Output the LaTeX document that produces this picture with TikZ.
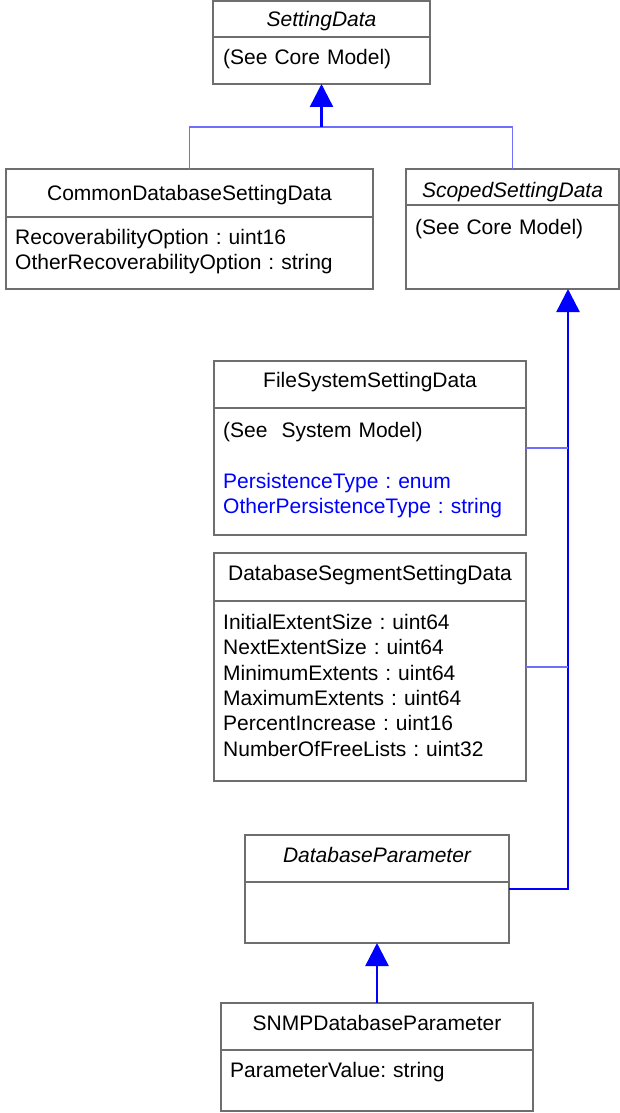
\documentclass[tikz,border=0pt]{standalone}
\usepackage{fontspec}
\setmainfont{Liberation Sans}
\usetikzlibrary{arrows.meta,calc}
\definecolor{umlgray}{RGB}{110,110,110}
\definecolor{linkblue}{RGB}{110,110,255}
\frenchspacing

\begin{document}
\begin{tikzpicture}[x=1pt, y=-1pt, font=\fontsize{21}{25.3}\selectfont,
 cls/.style={rectangle, draw=umlgray, line width=1.5pt, inner sep=0pt, outer sep=0pt},
 divider/.style={draw=umlgray, line width=1.5pt},
 title/.style={anchor=base, inner sep=0pt},
 attrs/.style={anchor=base west, inner sep=0pt, text width=330pt, align=left},
 link/.style={draw=linkblue, line width=1.4pt},
 gen/.style={draw=blue, line width=2.5pt, -{Triangle[length=23pt, width=23pt]}},]
 \useasboundingbox (0,0) rectangle (620,1113);

 % classes
 \node[cls, minimum width=217pt, minimum height=83pt] (setting) at (321.5,42.5) {};
 \node[title] (settingname) at ([yshift=-25.5pt]setting.north) {\itshape SettingData};
 \node[attrs] (settingattr) at ([xshift=10pt, yshift=-63.5pt]setting.north west) {(See Core Model)};
 \draw[divider] ([yshift=-36pt]setting.north west) -- ([yshift=-36pt]setting.north east);

 \node[cls, minimum width=367pt, minimum height=120pt] (common) at (189.5,229) {};
 \node[title] (commonname) at ([yshift=-31.5pt]common.north) {CommonDatabaseSettingData};
 \node[attrs] (commonattr) at ([xshift=9pt, yshift=-75.5pt]common.north west)
   {RecoverabilityOption : uint16\\OtherRecoverabilityOption : string};
 \draw[divider] ([yshift=-48pt]common.north west) -- ([yshift=-48pt]common.north east);

 \node[cls, minimum width=213pt, minimum height=120pt] (scoped) at (512.5,229) {};
 \node[title] (scopedname) at ([yshift=-28.5pt]scoped.north) {\itshape ScopedSettingData};
 \node[attrs] (scopedattr) at ([xshift=9pt, yshift=-65.5pt]scoped.north west) {(See Core Model)};
 \draw[divider] ([yshift=-36pt]scoped.north west) -- ([yshift=-36pt]scoped.north east);

 \node[cls, minimum width=312pt, minimum height=174pt] (filesys) at (370,448) {};
 \node[title] (filesysname) at ([yshift=-26.5pt]filesys.north) {FileSystemSettingData};
 \node[attrs] (filesysattr) at ([xshift=9pt, yshift=-76.5pt]filesys.north west)
   {(See~ System Model)\\[25.3pt]\textcolor{blue}{PersistenceType : enum}\\\textcolor{blue}{OtherPersistenceType : string}};
 \draw[divider] ([yshift=-47pt]filesys.north west) -- ([yshift=-47pt]filesys.north east);

 \node[cls, minimum width=312pt, minimum height=228pt] (dbseg) at (370,667) {};
 \node[title] (dbsegname) at ([yshift=-27.5pt]dbseg.north) {DatabaseSegmentSettingData};
 \node[attrs] (dbsegattr) at ([xshift=9pt, yshift=-76.5pt]dbseg.north west)
   {InitialExtentSize : uint64\\NextExtentSize : uint64\\MinimumExtents : uint64\\MaximumExtents : uint64\\PercentIncrease : uint16\\NumberOfFreeLists : uint32};
 \draw[divider] ([yshift=-48pt]dbseg.north west) -- ([yshift=-48pt]dbseg.north east);

 \node[cls, minimum width=264pt, minimum height=108pt] (dbparam) at (377,889) {};
 \node[title] (dbparamname) at ([yshift=-27.5pt]dbparam.north) {\itshape DatabaseParameter};
 \draw[divider] ([yshift=-47pt]dbparam.north west) -- ([yshift=-47pt]dbparam.north east);

 \node[cls, minimum width=312pt, minimum height=108pt] (snmp) at (377,1057) {};
 \node[title] (snmpname) at ([yshift=-27.5pt]snmp.north) {SNMPDatabaseParameter};
 \node[attrs] (snmpattr) at ([xshift=9pt, yshift=-74.5pt]snmp.north west) {ParameterValue: string};
 \draw[divider] ([yshift=-47pt]snmp.north west) -- ([yshift=-47pt]snmp.north east);

 % inheritance
 \coordinate (fork) at (setting.south |- 0,127);
 \coordinate (trunk) at ([xshift=55.5pt]scoped.south);
 \draw[link] (common.north) |- (fork) -| (scoped.north);
 \draw[gen] (fork) -- (setting.south);
 \draw[gen] (dbparam.east) -| (trunk);
 \draw[link] (filesys.east) -- (filesys.east -| trunk);
 \draw[link] (dbseg.east) -- (dbseg.east -| trunk);
 \draw[gen] (snmp.north) -- (dbparam.south);
\end{tikzpicture}
\end{document}
